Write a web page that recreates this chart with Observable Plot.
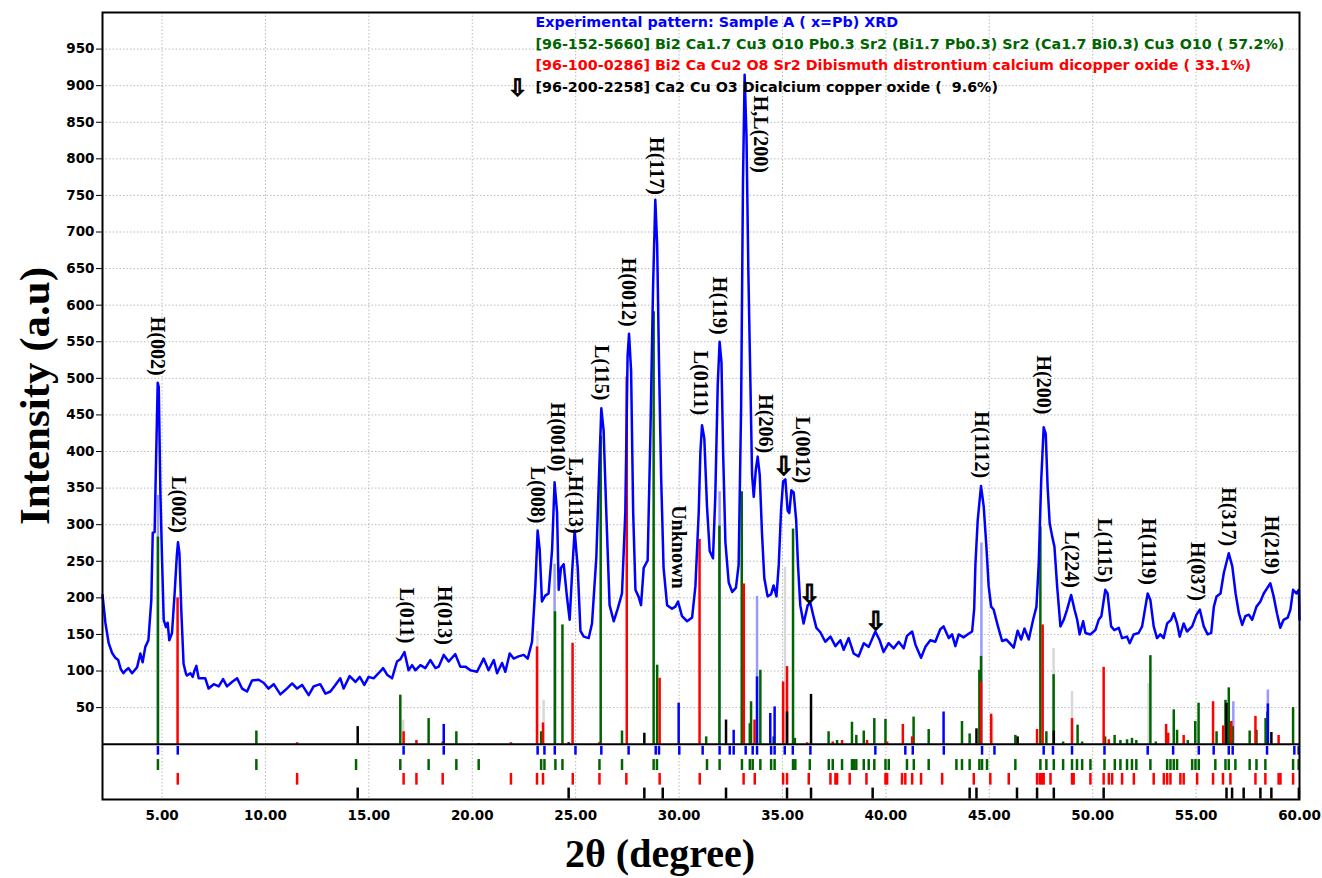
<!DOCTYPE html>
<html><head><meta charset="utf-8">
<script src="https://cdn.jsdelivr.net/npm/d3@7"></script>
<script src="https://cdn.jsdelivr.net/npm/@observablehq/plot@0.6"></script>
<style>body{margin:0;background:#fff}</style>
</head><body><div id="chart"></div>
<script>
// ---- experimental pattern (2theta, intensity) ----
const expTheta = [2.12,2.26,2.42,2.58,2.74,2.88,3.0,3.13,3.25,3.37,3.55,3.79,3.95,4.06,4.19,4.34,4.48,4.55,4.64,4.71,4.79,4.84,4.92,5.00,5.08,5.19,5.27,5.35,5.48,5.61,5.71,5.77,5.84,5.93,6.04,6.16,6.21,6.37,6.48,6.56,6.66,6.77,6.85,7.09,7.25,7.50,7.74,7.95,8.14,8.38,8.63,8.87,9.11,9.35,9.67,9.91,10.15,10.40,10.72,10.96,11.29,11.53,11.77,12.09,12.33,12.65,12.90,13.14,13.38,13.62,13.78,14.07,14.35,14.56,14.78,14.99,15.23,15.47,15.69,15.88,16.12,16.36,16.52,16.72,16.92,17.09,17.25,17.49,17.73,17.97,18.22,18.38,18.62,18.86,19.18,19.42,19.67,19.91,20.23,20.55,20.79,21.04,21.20,21.44,21.60,21.81,22.00,22.24,22.49,22.68,22.89,23.05,23.16,23.26,23.37,23.53,23.69,23.86,23.98,24.10,24.18,24.29,24.42,24.58,24.71,24.83,24.95,25.10,25.23,25.39,25.63,25.79,26.00,26.13,26.24,26.35,26.48,26.64,26.84,27.03,27.24,27.40,27.51,27.58,27.68,27.78,27.89,28.05,28.16,28.29,28.48,28.61,28.74,28.85,28.94,29.03,29.13,29.25,29.42,29.66,29.82,29.95,30.14,30.39,30.63,30.79,30.95,31.03,31.11,31.22,31.35,31.48,31.64,31.75,31.87,31.96,32.05,32.13,32.24,32.40,32.57,32.75,32.88,33.00,33.09,33.17,33.26,33.35,33.45,33.53,33.61,33.71,33.80,33.90,34.01,34.12,34.28,34.45,34.57,34.71,34.82,34.93,35.03,35.14,35.25,35.33,35.43,35.54,35.66,35.75,35.86,36.02,36.22,36.35,36.48,36.64,36.83,37.07,37.32,37.56,37.80,37.96,38.20,38.44,38.68,38.93,39.17,39.49,39.70,39.89,40.13,40.38,40.62,40.86,41.02,41.27,41.43,41.70,41.91,42.15,42.39,42.63,42.79,43.04,43.20,43.36,43.52,43.76,44.00,44.17,44.27,44.33,44.44,44.60,44.73,44.86,44.97,45.09,45.21,45.41,45.62,45.83,46.02,46.18,46.37,46.54,46.70,46.91,47.12,47.28,47.39,47.51,47.63,47.73,47.82,47.92,48.04,48.15,48.28,48.44,48.60,48.76,48.96,49.12,49.25,49.37,49.54,49.65,49.89,50.13,50.29,50.42,50.61,50.72,50.89,51.05,51.26,51.42,51.66,51.79,51.98,52.22,52.39,52.55,52.66,52.79,52.95,53.11,53.27,53.43,53.60,53.79,53.92,54.08,54.21,54.40,54.56,54.81,55.02,55.18,55.37,55.56,55.73,55.86,55.99,56.18,56.34,56.58,56.75,56.91,57.07,57.23,57.38,57.55,57.71,57.92,58.11,58.27,58.43,58.59,58.75,58.91,59.07,59.23,59.43,59.56,59.69,59.85,59.97,60.0];
const expIntensity = [204,166,138,125,118,115,103,97,101,104,97,105,124,112,133,142,197,289,290,388,494,488,343,252,170,160,166,142,152,207,256,276,261,183,110,96,94,97,92,100,107,90,90,90,76,82,79,89,79,85,90,76,72,87,88,84,76,82,68,74,83,76,81,67,79,82,69,72,81,90,76,93,85,92,81,92,90,97,104,95,90,113,116,126,101,108,101,108,104,115,104,106,122,113,123,106,106,101,99,117,101,115,97,111,99,124,117,120,122,117,140,216,292,266,195,203,206,266,358,317,211,241,246,201,170,236,292,241,155,147,145,165,256,368,459,429,317,190,168,185,206,317,530,561,510,317,211,201,190,241,251,419,622,744,683,520,368,241,190,185,188,195,175,168,173,216,317,399,436,418,325,264,254,338,492,550,522,399,276,221,208,214,245,461,769,915,830,646,492,368,338,375,393,368,288,227,202,205,217,202,245,319,359,362,319,316,347,344,307,245,190,165,190,193,177,159,153,140,147,134,142,129,145,124,120,138,133,154,142,126,138,131,140,131,148,154,136,118,133,142,140,157,161,145,150,134,150,146,151,154,185,246,306,353,325,270,216,188,184,162,141,143,137,132,155,143,158,143,170,188,246,360,433,424,352,302,284,270,216,161,170,184,204,184,170,150,168,152,150,156,170,175,211,206,161,156,159,145,147,138,150,152,161,188,206,197,161,145,150,145,165,170,179,165,147,165,154,161,177,184,161,150,152,188,202,206,234,261,243,206,179,163,175,177,170,188,195,206,213,220,202,179,159,170,173,184,211,206,211,170];

// ---- reference stick patterns ----
const greenTheta = [4.80,9.56,16.52,17.89,19.23,20.31,23.33,24.00,24.36,26.21,27.24,28.77,28.94,31.31,31.95,33.03,33.42,33.48,33.93,34.57,35.51,35.60,37.23,37.64,38.36,38.57,38.93,39.44,39.98,41.34,42.07,43.68,44.05,44.52,44.60,46.26,47.47,47.76,48.11,48.57,49.27,49.49,50.60,51.06,51.34,51.66,51.90,52.11,52.79,53.05,53.92,54.08,54.60,54.96,55.12,55.99,56.42,56.58,56.77,57.59,57.92,58.36,58.45,59.69];
const greenIntensity = [283,18,67,35,17,1,17,181,163,421,18,591,108,10,298,345,28,58,101,10,294,8,17,5,30,12,18,35,34,37,20,31,14,101,120,12,297,17,95,3,26,3,10,12,5,6,8,5,121,3,47,19,5,31,56,17,60,77,24,18,19,35,44,50];
const redTheta = [5.75,11.53,16.68,17.30,18.57,21.87,23.13,23.42,24.85,26.14,27.47,29.06,30.99,33.13,33.65,35.03,35.22,36.19,37.43,37.88,39.09,40.06,40.82,41.27,44.60,45.09,47.31,47.58,49.00,50.53,50.78,53.55,53.65,54.40,55.82,56.31,56.70,57.87,58.99];
const redIntensity = [200,2,17,5,3,2,133,29,138,2,502,90,280,219,33,85,106,2,3,5,5,3,27,10,85,41,20,163,35,105,6,27,15,12,58,25,31,38,12];
const blackTheta = [14.46,24.66,28.32,32.27,35.22,36.38,44.38,46.37,48.12,56.47,58.64];
const blackIntensity = [24,2,15,33,44,68,21,10,18,56,16];
const blueTheta = [18.62,29.98,32.64,33.77,34.41,34.62,42.79,58.47];
const blueIntensity = [27,56,19,92,42,51,44,55];
const lightBlueTheta = [4.80,23.98,31.96,33.77,44.62,56.80,58.47];
const lightBlueIntensity = [340,246,345,202,275,58,74];
const greyTheta = [16.66,23.15,23.45,35.12,45.15,48.11,49.00,52.70];
const greyIntensity = [33,154,60,242,37,131,72,83];

// ---- position markers below the zero line ----
const blueMarks = [4.80,5.76,16.68,18.62,23.16,23.49,23.99,24.99,26.24,27.56,28.87,29.03,30.01,31.14,31.96,32.45,32.64,33.22,33.56,33.77,34.45,34.62,35.11,35.50,36.35,39.49,40.94,41.30,42.80,44.65,45.25,47.63,48.08,49.00,50.57,52.66,53.89,55.13,55.85,56.58,56.77,58.43,59.75,59.96];
const greenMarks = [4.80,9.56,14.38,16.52,17.89,19.23,20.31,23.33,23.49,24.02,24.36,26.15,27.24,28.77,28.93,31.35,31.96,33.04,33.42,33.56,33.93,34.45,34.62,35.51,35.62,36.32,37.24,37.43,37.88,38.36,38.45,38.57,38.93,39.17,39.44,39.98,40.14,41.02,41.35,42.07,43.41,43.68,44.05,44.52,44.65,44.89,46.26,47.47,47.76,48.12,48.57,49.00,49.24,49.49,49.89,50.57,51.07,51.34,51.66,51.90,52.11,52.79,53.60,53.76,53.92,54.08,54.81,54.97,55.13,55.93,56.42,56.58,56.90,57.59,57.92,58.35,59.69,59.96];
const redMarks = [5.76,11.53,16.68,17.30,18.57,21.87,23.13,23.42,24.86,26.15,27.45,29.06,31.00,33.12,33.66,35.03,35.22,36.27,37.32,37.56,37.64,38.25,39.06,39.98,40.06,40.78,40.94,41.27,41.70,42.72,44.25,45.05,45.94,47.31,47.44,47.55,47.63,47.96,49.00,49.08,49.89,50.53,50.78,50.94,51.42,51.99,52.95,53.44,53.60,53.76,54.24,54.40,55.05,55.82,56.30,56.66,57.87,58.35,58.99,59.08,59.69];
const blackMarks = [14.46,24.66,28.32,29.21,32.27,35.22,36.38,39.36,44.05,44.38,46.34,47.31,48.12,50.53,56.47,56.74,57.30,58.11,58.64,59.97];

// ---- peak labels ----
const peakLabels = ["H(002)","L(002)","L(011)","H(013)","L(008)","H(0010)","L,H(113)","L(115)","H(0012)","H(117)","Unknown","L(0111)","H(119)","H,L(200)","H(206)","L(0012)","H(1112)","H(200)","L(224)","L(1115)","H(1119)","H(037)","H(317)","H(219)"];
const peakLabelTheta = [4.79,5.79,16.81,18.65,23.15,24.11,25.0,26.24,27.55,28.9,29.95,31.05,31.97,33.94,34.18,35.95,44.62,47.63,48.96,50.57,52.71,55.08,56.58,58.63];
const peakLabelIntensity = [501,286,135,133,299,370,285,467,568,748,210,447,557,778,395,354,361,448,211,218,215,193,268,229];

// ---- arrows (Ca2CuO3 peaks) ----
const arrowTheta = [35.05,36.3,39.5];
const arrowIntensity = [368,193,156];

// ---- legend ----
const legendLines = [
  "Experimental pattern: Sample A ( x=Pb) XRD",
  "[96-152-5660] Bi2 Ca1.7 Cu3 O10 Pb0.3 Sr2 (Bi1.7 Pb0.3) Sr2 (Ca1.7 Bi0.3) Cu3 O10 ( 57.2%)",
  "[96-100-0286] Bi2 Ca Cu2 O8 Sr2 Dibismuth distrontium calcium dicopper oxide ( 33.1%)",
  "[96-200-2258] Ca2 Cu O3 Dicalcium copper oxide (  9.6%)"
];
const legendColors = ["#0000ff","#006400","#ff0000","#000000"];

// ---- ticks ----
const xTicks = [5,10,15,20,25,30,35,40,45,50,55,60];
const yTicks = [50,100,150,200,250,300,350,400,450,500,550,600,650,700,750,800,850,900,950];

const zip = (xs, ys) => xs.map((x, i) => ({x, y: ys[i]}));
const exp = zip(expTheta, expIntensity);
const sticks = (xs, ys, color, w, op = 1) =>
  Plot.ruleX(zip(xs, ys), {x: "x", y1: 0, y2: "y", stroke: color, strokeWidth: w, strokeOpacity: op});
const markRow = (xs, color, y1, y2) =>
  Plot.ruleX(xs, {x: d => d, y1, y2, stroke: color, strokeWidth: 2.5});

const labels = peakLabels.map((t, i) => ({t, x: peakLabelTheta[i], y: peakLabelIntensity[i]}));
const arrows = zip(arrowTheta, arrowIntensity);

const legendMarks = legendLines.map((line, i) =>
  Plot.text([line], {
    text: d => d, frameAnchor: "top-left", textAnchor: "start", lineAnchor: "middle",
    dx: 433, dy: 10 + i * 21.7, fill: legendColors[i],
    fontFamily: "DejaVu Sans", fontWeight: "bold", fontSize: 14.3
  })
);

const chart = Plot.plot({
  width: 1322, height: 878,
  marginLeft: 102, marginRight: 23, marginTop: 12, marginBottom: 79,
  style: {fontFamily: "DejaVu Sans", fontSize: "13.5px", fontWeight: "bold", color: "black", background: "white"},
  x: {domain: [2.12, 60], ticks: xTicks, tickFormat: d3.format(".2f"), tickSize: 0, tickPadding: 11, label: null},
  y: {domain: [-75.6, 1000], ticks: yTicks, tickSize: 6, tickPadding: 2, label: null},
  marks: [
    Plot.ruleX(xTicks, {stroke: "#bbb", strokeWidth: 1, strokeDasharray: "1.5,2"}),
    Plot.ruleY(yTicks, {stroke: "#bbb", strokeWidth: 1, strokeDasharray: "1.5,2"}),
    sticks(greyTheta, greyIntensity, "#d8d8d8", 2.5),
    sticks(lightBlueTheta, lightBlueIntensity, "#8080ff", 2.5, 0.8),
    sticks(greenTheta, greenIntensity, "#006400", 2.5),
    sticks(redTheta, redIntensity, "#ff0000", 2.5),
    sticks(blackTheta, blackIntensity, "#000000", 2.5),
    sticks(blueTheta, blueIntensity, "#0000ff", 2.5),
    markRow(blueMarks, "#0000ff", -3, -15),
    markRow(greenMarks, "#006400", -21, -36),
    markRow(redMarks, "#ff0000", -40, -56),
    markRow(blackMarks, "#000000", -60, -75),
    Plot.ruleY([0], {stroke: "black", strokeWidth: 2}),
    Plot.line(exp, {x: "x", y: "y", stroke: "#0000ff", strokeWidth: 2.5, curve: "linear"}),
    Plot.frame({stroke: "black", strokeWidth: 2}),
    Plot.text(labels, {x: "x", y: "y", text: "t", rotate: 90, textAnchor: "end", lineAnchor: "middle",
      dy: -2, fontFamily: "Liberation Serif", fontWeight: "bold", fontSize: 20, fill: "black"}),
    Plot.text(arrows, {x: "x", y: "y", text: () => "\u21E9", textAnchor: "middle", lineAnchor: "bottom",
      fontFamily: "DejaVu Sans", fontWeight: "bold", fontSize: 26, fill: "black", stroke: "black", strokeWidth: 0.9}),
    ...legendMarks,
    Plot.text(["\u21E9"], {text: d => d, frameAnchor: "top-left", textAnchor: "middle", lineAnchor: "middle",
      dx: 415, dy: 76, fontFamily: "DejaVu Sans", fontWeight: "bold", fontSize: 24, fill: "black", stroke: "black", strokeWidth: 0.9}),
    Plot.text(["Intensity (a.u)"], {text: d => d, frameAnchor: "left", rotate: -90, textAnchor: "middle",
      lineAnchor: "middle", dx: -67, dy: -10, fontFamily: "Liberation Serif", fontWeight: "bold", fontSize: 43, fill: "black"}),
    Plot.text(["2\u03B8 (degree)"], {text: d => d, frameAnchor: "bottom", textAnchor: "middle",
      lineAnchor: "middle", dx: -41, dy: 55, fontFamily: "Liberation Serif", fontWeight: "bold", fontSize: 40, fill: "black"})
  ]
});
document.getElementById("chart").appendChild(chart);
</script></body></html>
